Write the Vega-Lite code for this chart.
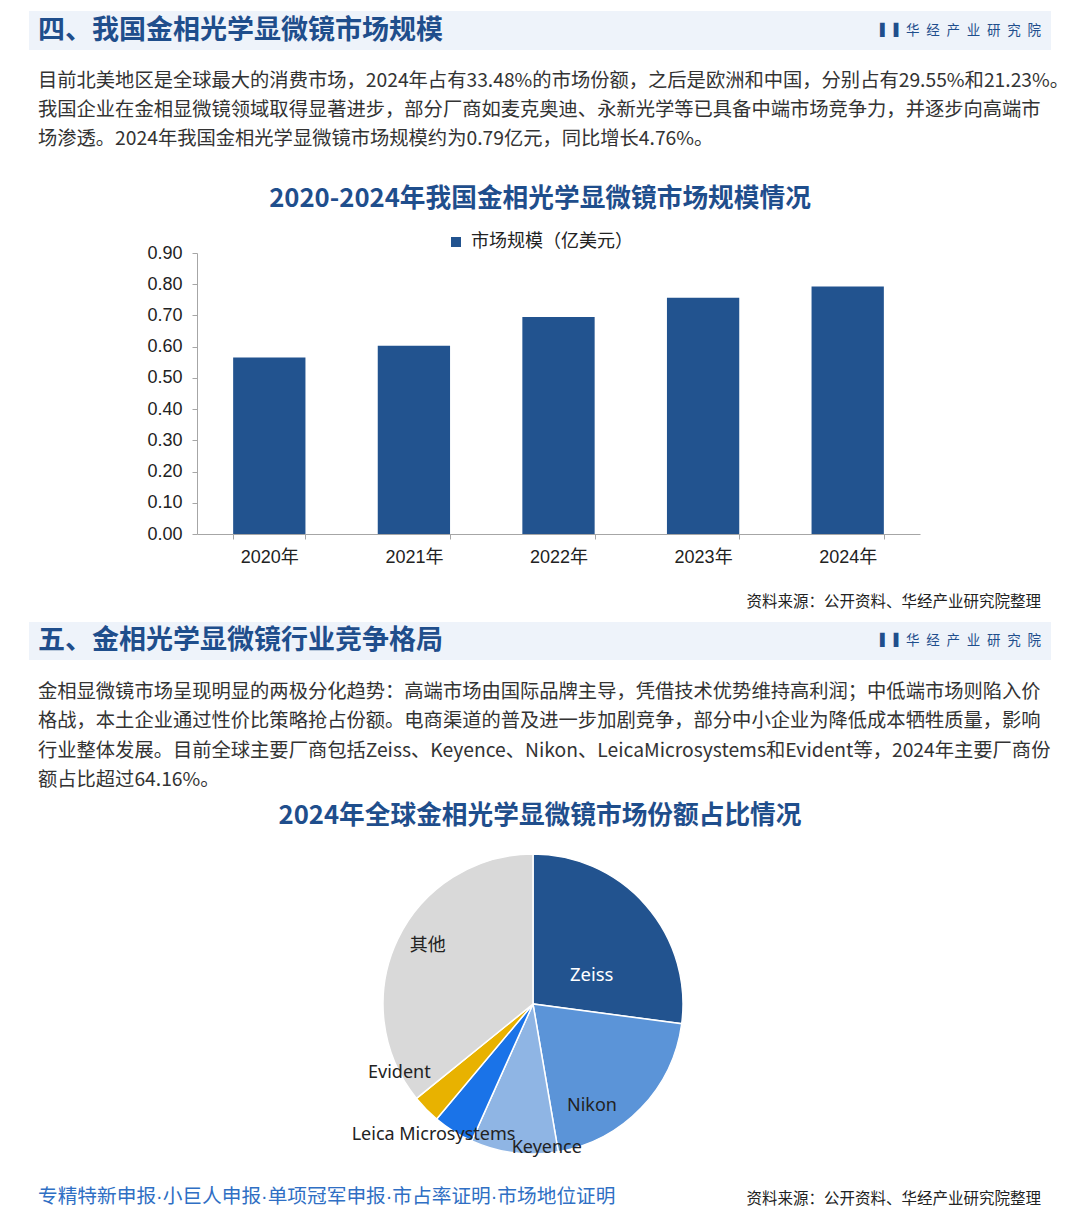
{
  "$schema": "https://vega.github.io/schema/vega-lite/v6.json",
  "padding": 0,
  "spacing": 0,
  "bounds": "flush",
  "background": "white",
  "resolve": {"scale": {"color": "independent"}, "legend": {"color": "independent"}},
  "config": {"view": {"stroke": null}, "font": "Noto Sans CJK SC"},
  "vconcat": [
    {
      "width": 1080,
      "height": 253,
      "layer": [
        {"data": {"values": [{}]}, "mark": {"type": "rect", "color": "#eef3fa"},
         "encoding": {"x": {"value": 29}, "x2": {"value": 1051}, "y": {"value": 11}, "y2": {"value": 50}}},
        {"data": {"values": [{"t": "四、我国金相光学显微镜市场规模"}]},
         "mark": {"type": "text", "align": "left", "baseline": "alphabetic", "fontSize": 27, "fontWeight": "bold", "color": "#1f4e8c"},
         "encoding": {"text": {"field": "t"}, "x": {"value": 38}, "y": {"value": 39}}},
        {"data": {"values": [{"t": "▌▐"}]},
         "mark": {"type": "text", "align": "left", "baseline": "middle", "fontSize": 12, "font": "DejaVu Sans", "color": "#1f4e8c"},
         "encoding": {"text": {"field": "t"}, "x": {"value": 880}, "y": {"value": 30}}},
        {"data": {"values": [{"t": "华\u2002经\u2002产\u2002业\u2002研\u2002究\u2002院"}]},
         "mark": {"type": "text", "align": "right", "baseline": "alphabetic", "fontSize": 13.5, "color": "#1f4e8c"},
         "encoding": {"text": {"field": "t"}, "x": {"value": 1041}, "y": {"value": 35}}},
        {"data": {"values": [{"t": "目前北美地区是全球最大的消费市场，2024年占有33.48%的市场份额，之后是欧洲和中国，分别占有29.55%和21.23%。\n我国企业在金相显微镜领域取得显著进步，部分厂商如麦克奥迪、永新光学等已具备中端市场竞争力，并逐步向高端市\n场渗透。2024年我国金相光学显微镜市场规模约为0.79亿元，同比增长4.76%。"}]},
         "mark": {"type": "text", "align": "left", "baseline": "alphabetic", "fontSize": 19.3, "lineHeight": 29, "lineBreak": "\n", "color": "#333333"},
         "encoding": {"text": {"field": "t"}, "x": {"value": 38}, "y": {"value": 87}}},
        {"data": {"values": [{"t": "2020-2024年我国金相光学显微镜市场规模情况"}]},
         "mark": {"type": "text", "align": "center", "baseline": "alphabetic", "fontSize": 25.7, "fontWeight": "bold", "color": "#1f4e8c"},
         "encoding": {"text": {"field": "t"}, "x": {"value": 540}, "y": {"value": 207}}}
      ]
    },
    {
      "width": 1080,
      "height": 281,
      "data": {"values": [
        {"year": "2020年", "value": 0.565},
        {"year": "2021年", "value": 0.603},
        {"year": "2022年", "value": 0.695},
        {"year": "2023年", "value": 0.757},
        {"year": "2024年", "value": 0.793}
      ]},
      "mark": {"type": "bar", "color": "#22538f"},
      "encoding": {
        "x": {"field": "year", "type": "ordinal", "scale": {"range": [197, 920], "paddingInner": 0.5, "paddingOuter": 0.25},
          "axis": {"title": null, "labelAngle": 0, "tickBand": "extent", "domainColor": "#a6a6a6", "tickColor": "#a6a6a6", "tickSize": 5,
            "labelFont": "Liberation Sans, Noto Sans CJK SC", "labelFontSize": 18, "labelColor": "#222222", "labelPadding": 9}},
        "y": {"field": "value", "type": "quantitative", "scale": {"domain": [0, 0.9]},
          "axis": {"title": null, "offset": -197, "values": [0, 0.1, 0.2, 0.3, 0.4, 0.5, 0.6, 0.7, 0.8, 0.9], "format": ".2f", "grid": false,
            "domainColor": "#a6a6a6", "tickColor": "#a6a6a6", "tickSize": 5, "labelPadding": 10,
            "labelFont": "Liberation Sans", "labelFontSize": 18, "labelColor": "#222222"}},
        "color": {"datum": "市场规模（亿美元）", "type": "nominal", "scale": {"range": ["#22538f"]},
          "legend": {"orient": "none", "legendX": 447, "legendY": -20, "title": null, "symbolType": "square", "symbolSize": 100, "labelOffset": 6,
            "labelLimit": 400, "labelFontSize": 18, "labelFont": "Noto Sans CJK SC", "labelColor": "#222222", "direction": "horizontal"}}
      }
    },
    {
      "width": 1080,
      "height": 320,
      "layer": [
        {"data": {"values": [{"t": "资料来源：公开资料、华经产业研究院整理"}]},
         "mark": {"type": "text", "align": "right", "baseline": "alphabetic", "fontSize": 15.5, "color": "#222222"},
         "encoding": {"text": {"field": "t"}, "x": {"value": 1041}, "y": {"value": 73}}},
        {"data": {"values": [{}]}, "mark": {"type": "rect", "color": "#eef3fa"},
         "encoding": {"x": {"value": 29}, "x2": {"value": 1051}, "y": {"value": 88}, "y2": {"value": 126}}},
        {"data": {"values": [{"t": "五、金相光学显微镜行业竞争格局"}]},
         "mark": {"type": "text", "align": "left", "baseline": "alphabetic", "fontSize": 27, "fontWeight": "bold", "color": "#1f4e8c"},
         "encoding": {"text": {"field": "t"}, "x": {"value": 38}, "y": {"value": 115}}},
        {"data": {"values": [{"t": "▌▐"}]},
         "mark": {"type": "text", "align": "left", "baseline": "middle", "fontSize": 12, "font": "DejaVu Sans", "color": "#1f4e8c"},
         "encoding": {"text": {"field": "t"}, "x": {"value": 880}, "y": {"value": 106}}},
        {"data": {"values": [{"t": "华\u2002经\u2002产\u2002业\u2002研\u2002究\u2002院"}]},
         "mark": {"type": "text", "align": "right", "baseline": "alphabetic", "fontSize": 13.5, "color": "#1f4e8c"},
         "encoding": {"text": {"field": "t"}, "x": {"value": 1041}, "y": {"value": 111}}},
        {"data": {"values": [{"t": "金相显微镜市场呈现明显的两极分化趋势：高端市场由国际品牌主导，凭借技术优势维持高利润；中低端市场则陷入价\n格战，本土企业通过性价比策略抢占份额。电商渠道的普及进一步加剧竞争，部分中小企业为降低成本牺牲质量，影响\n行业整体发展。目前全球主要厂商包括Zeiss、Keyence、Nikon、LeicaMicrosystems和Evident等，2024年主要厂商份\n额占比超过64.16%。"}]},
         "mark": {"type": "text", "align": "left", "baseline": "alphabetic", "fontSize": 19.3, "lineHeight": 29.3, "lineBreak": "\n", "color": "#333333"},
         "encoding": {"text": {"field": "t"}, "x": {"value": 38}, "y": {"value": 164}}},
        {"data": {"values": [{"t": "2024年全球金相光学显微镜市场份额占比情况"}]},
         "mark": {"type": "text", "align": "center", "baseline": "alphabetic", "fontSize": 25.7, "fontWeight": "bold", "color": "#1f4e8c"},
         "encoding": {"text": {"field": "t"}, "x": {"value": 540}, "y": {"value": 290}}}
      ]
    },
    {
      "width": 1066,
      "height": 300,
      "data": {"values": [
        {"name": "Zeiss", "share": 27.1, "idx": 1},
        {"name": "Nikon", "share": 20.2, "idx": 2},
        {"name": "Keyence", "share": 9.4, "idx": 3},
        {"name": "Leica Microsystems", "share": 4.4, "idx": 4},
        {"name": "Evident", "share": 3.06, "idx": 5},
        {"name": "其他", "share": 35.84, "idx": 6}
      ]},
      "encoding": {
        "theta": {"field": "share", "type": "quantitative", "stack": true},
        "order": {"field": "idx", "type": "quantitative"}
      },
      "layer": [
        {"mark": {"type": "arc", "stroke": "white", "strokeWidth": 1.5},
         "encoding": {"color": {"field": "name", "type": "nominal",
           "scale": {"domain": ["Zeiss", "Nikon", "Keyence", "Leica Microsystems", "Evident", "其他"],
             "range": ["#22538f", "#5b94d8", "#8fb5e4", "#1a73e8", "#e8b200", "#d9d9d9"]}, "legend": null}}},
        {"mark": {"type": "text", "fontSize": 18.5, "font": "Noto Sans", "baseline": "middle", "align": "center", "dx": 6, "dy": 17},
         "encoding": {"radius": {"value": 70}, "color": {"value": "white"},
           "text": {"condition": {"test": "datum.name === 'Zeiss'", "field": "name"}, "value": ""}}},
        {"mark": {"type": "text", "fontSize": 18, "font": "Noto Sans", "baseline": "middle", "align": "center", "dx": -26, "dy": 20},
         "encoding": {"radius": {"value": 118}, "color": {"value": "#222222"},
           "text": {"condition": {"test": "datum.name === 'Nikon'", "field": "name"}, "value": ""}}},
        {"mark": {"type": "text", "fontSize": 18, "font": "Noto Sans", "baseline": "middle", "align": "center", "dx": 32, "dy": 0},
         "encoding": {"radius": {"value": 145}, "color": {"value": "#222222"},
           "text": {"condition": {"test": "datum.name === 'Keyence'", "field": "name"}, "value": ""}}},
        {"mark": {"type": "text", "fontSize": 18, "font": "Noto Sans", "baseline": "middle", "align": "center", "dx": -13, "dy": -7},
         "encoding": {"radius": {"value": 163}, "color": {"value": "#222222"},
           "text": {"condition": {"test": "datum.name === 'Leica Microsystems'", "field": "name"}, "value": ""}}},
        {"mark": {"type": "text", "fontSize": 18, "font": "Noto Sans", "baseline": "middle", "align": "center", "dx": -26, "dy": -37},
         "encoding": {"radius": {"value": 151}, "color": {"value": "#222222"},
           "text": {"condition": {"test": "datum.name === 'Evident'", "field": "name"}, "value": ""}}},
        {"mark": {"type": "text", "fontSize": 18, "font": "Noto Sans CJK SC", "baseline": "middle", "align": "center", "dx": 3, "dy": -6},
         "encoding": {"radius": {"value": 120}, "color": {"value": "#222222"},
           "text": {"condition": {"test": "datum.name === '其他'", "field": "name"}, "value": ""}}}
      ]
    },
    {
      "width": 1080,
      "height": 61,
      "layer": [
        {"data": {"values": [{"t": "专精特新申报·小巨人申报·单项冠军申报·市占率证明·市场地位证明"}]},
         "mark": {"type": "text", "align": "left", "baseline": "alphabetic", "fontSize": 19.7, "font": "Liberation Sans, Noto Sans CJK SC", "color": "#2f6fc4"},
         "encoding": {"text": {"field": "t"}, "x": {"value": 38}, "y": {"value": 49}}},
        {"data": {"values": [{"t": "资料来源：公开资料、华经产业研究院整理"}]},
         "mark": {"type": "text", "align": "right", "baseline": "alphabetic", "fontSize": 15.5, "color": "#222222"},
         "encoding": {"text": {"field": "t"}, "x": {"value": 1041}, "y": {"value": 50}}}
      ]
    }
  ]
}
